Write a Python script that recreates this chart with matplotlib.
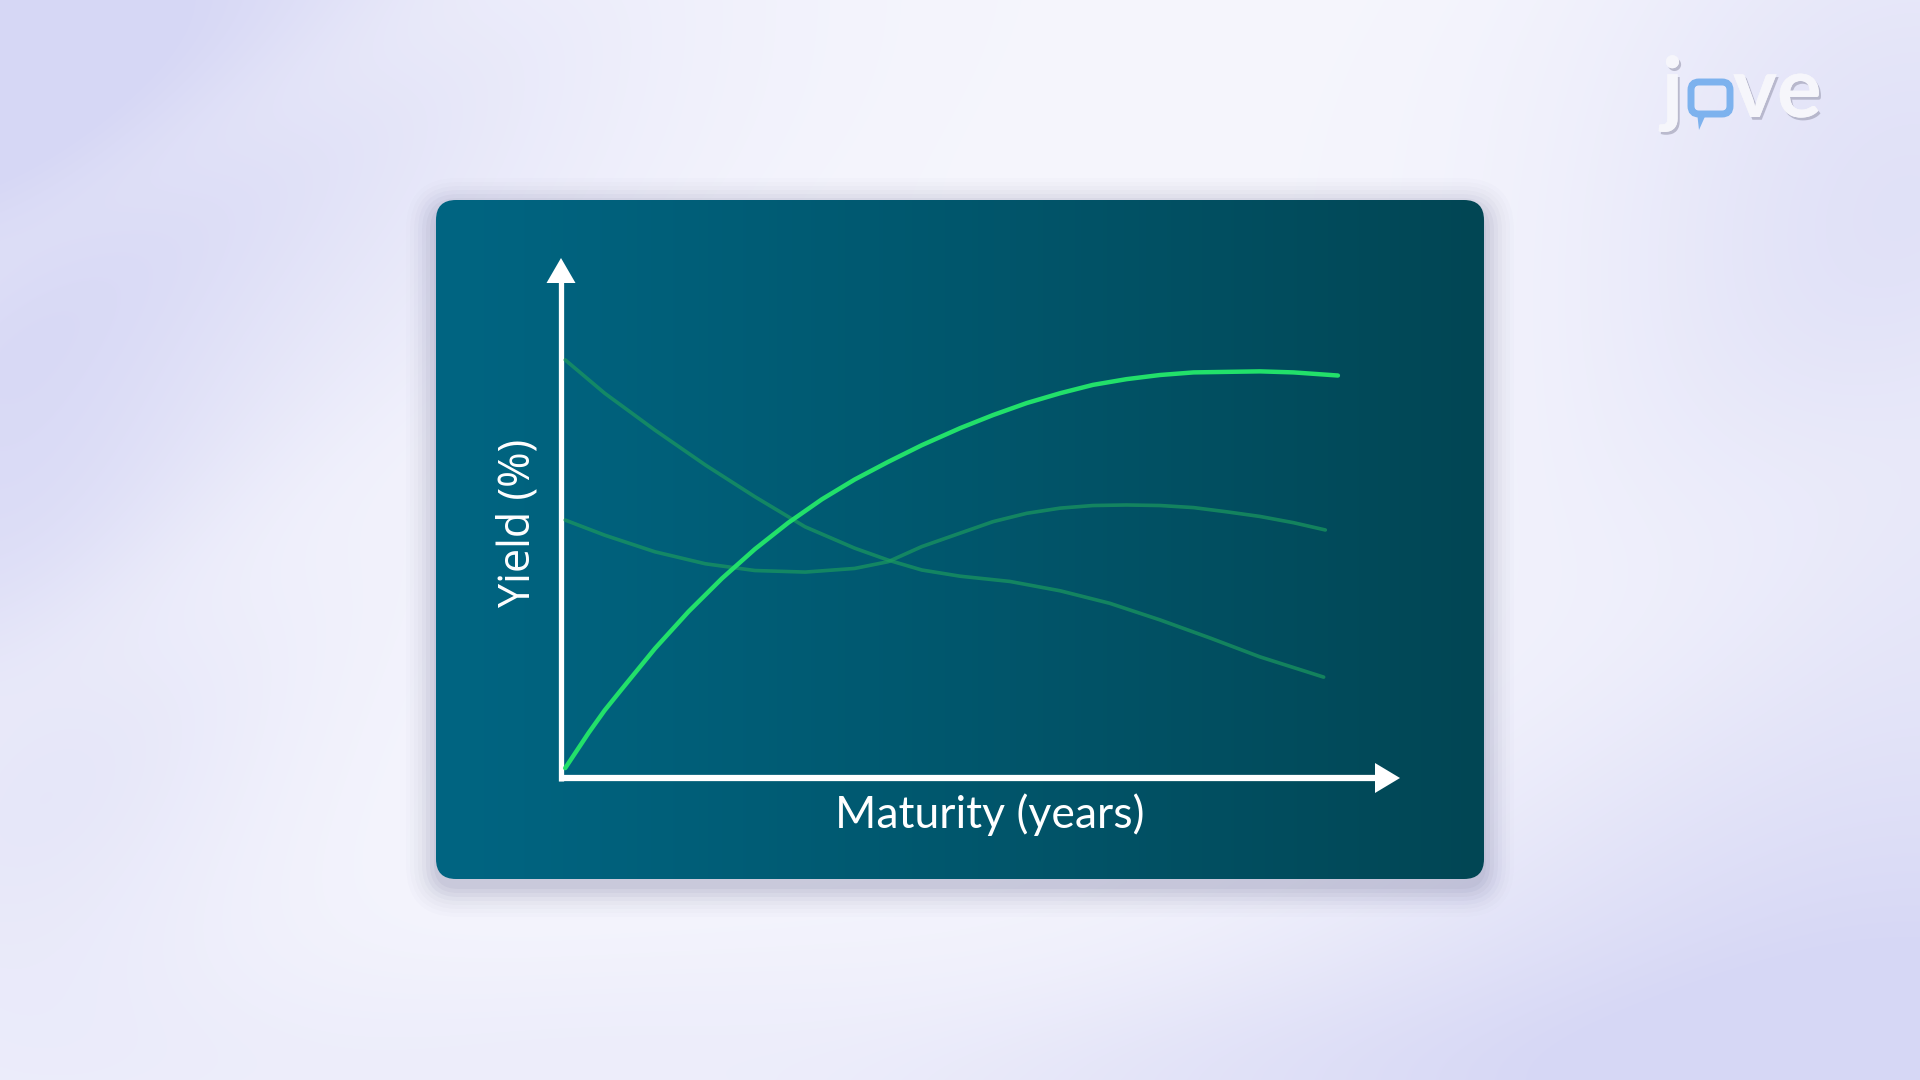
#!/usr/bin/env python3
"""Yield curve shapes on a teal card (normal, humped, inverted)."""

import numpy as np
import matplotlib
matplotlib.use("Agg")
import matplotlib.pyplot as plt
import matplotlib.patheffects as pe
from matplotlib.patches import FancyBboxPatch, Polygon

# Curve data (maturity on 0..100 scale, yield on 0..100 scale)
normal_x = [0.5, 3.3, 5.2, 7.2, 11.2, 15.2, 19.2, 23.1, 27.1, 31.1, 35.0, 39.0, 43.0,
            47.6, 51.5, 55.5, 59.5, 63.4, 67.4, 71.4, 75.4, 79.3, 83.3, 87.3, 92.6]
normal_y = [1.9, 8.7, 13.0, 17.0, 24.9, 32.0, 38.4, 44.0, 49.1, 53.6, 57.4, 60.8, 64.0,
            67.3, 69.8, 72.1, 74.0, 75.6, 76.7, 77.5, 78.0, 78.1, 78.2, 78.0, 77.4]

humped_x = [0.5, 5.2, 11.2, 17.2, 23.1, 29.1, 35.0, 39.0, 43.0, 47.6, 51.5, 55.5,
            59.5, 63.4, 67.4, 71.4, 75.4, 79.3, 83.3, 87.3, 91.1]
humped_y = [49.6, 46.7, 43.5, 41.2, 39.9, 39.6, 40.3, 41.6, 44.5, 47.1, 49.3, 50.9,
            51.9, 52.4, 52.5, 52.4, 52.0, 51.2, 50.3, 49.1, 47.7]

inverted_x = [0.5, 5.2, 11.2, 17.2, 23.1, 29.1, 35.0, 39.0, 43.0, 47.6, 53.5, 59.5,
              65.4, 71.4, 77.4, 83.3, 90.9]
inverted_y = [80.4, 74.0, 66.9, 60.2, 54.1, 48.3, 44.2, 41.9, 40.0, 38.8, 37.8, 36.0,
              33.6, 30.4, 26.9, 23.3, 19.4]

X_LABEL = "Maturity (years)"
Y_LABEL = "Yield (%)"

W, H = 1920, 1080

# Layout in pixels (top-left origin)
CARD = (436, 200, 1484, 879)
ORIGIN = (561, 778)
X_END = 1400
Y_TOP = 258

fig = plt.figure(figsize=(W / 100, H / 100), dpi=100)

# background layer in pixel coordinates
bg = fig.add_axes([0, 0, 1, 1])
bg.set_xlim(0, W)
bg.set_ylim(H, 0)
bg.axis("off")

yy, xx = np.mgrid[0:H, 0:W].astype(float)


def blob(cx, cy, rx, ry):
    return np.exp(-(((xx - cx) / rx) ** 2 + ((yy - cy) / ry) ** 2))


# lavender tint in the corners and along the edges
tint = (0.95 * blob(0, 0, 520, 420) + 0.9 * blob(1920, 1080, 620, 380)
        + 0.55 * blob(0, 620, 260, 420) + 0.6 * blob(1920, 250, 330, 420)
        + 0.35 * blob(1000, 1080, 900, 120))
# white diagonal swooshes
t = yy + 0.55 * xx
sw = (0.6 * np.exp(-((t - 700) / 110) ** 2) + 0.5 * np.exp(-((t - 1500) / 160) ** 2)
      + 0.4 * np.exp(-((t - 250) / 80) ** 2))
tint = np.clip(tint * (1 - 0.6 * sw) + 0.12, 0, 1)
c_dark = np.array([214, 215, 245]) / 255
c_light = np.array([250, 250, 254]) / 255
img = c_light + (c_dark - c_light) * tint[..., None]
bg.imshow(img, extent=(0, W, H, 0), zorder=0, interpolation="bilinear")

x0, y0, x1, y1 = CARD
# shadow
for k, a in enumerate(np.linspace(0.05, 0.01, 8)):
    pad = 4 + k * 4
    bg.add_patch(FancyBboxPatch((x0 - pad + 2, y0 - pad + 10), (x1 - x0) + 2 * pad - 4,
                                (y1 - y0) + 2 * pad - 4,
                                boxstyle="round,pad=0,rounding_size=%d" % (20 + pad),
                                fc=(0.25, 0.25, 0.45), ec="none", alpha=a, zorder=1))

# card with horizontal teal gradient
card = FancyBboxPatch((x0, y0), x1 - x0, y1 - y0,
                      boxstyle="round,pad=0,rounding_size=20",
                      fc="none", ec="none", zorder=2)
bg.add_patch(card)
gx = np.linspace(0, 1, 256)
c_left = np.array([0, 101, 130]) / 255
c_right = np.array([2, 70, 84]) / 255
grad = c_left + (c_right - c_left) * (gx ** 1.1)[:, None]
grad = np.tile(grad[None, :, :], (64, 1, 1))
gim = bg.imshow(grad, extent=(x0, x1, y1, y0), zorder=2, interpolation="bilinear")
gim.set_clip_path(card)

# axis arrows
ox, oy = ORIGIN
bg.plot([ox, ox], [oy + 3, Y_TOP + 22], color="white", lw=3.8, solid_capstyle="butt", zorder=4)
bg.plot([ox - 2, X_END - 22], [oy, oy], color="white", lw=4.5, solid_capstyle="butt", zorder=4)
bg.add_patch(Polygon([[ox, Y_TOP], [ox - 14.5, Y_TOP + 25], [ox + 14.5, Y_TOP + 25]],
                     closed=True, fc="white", ec="none", zorder=4))
bg.add_patch(Polygon([[X_END, oy], [X_END - 25, oy - 15], [X_END - 25, oy + 15]],
                     closed=True, fc="white", ec="none", zorder=4))

# axis labels
bg.text(990, 815, X_LABEL, color="white", fontsize=32, family="Lato",
        ha="center", va="center", zorder=5)
bg.text(518, 523, Y_LABEL, color="white", fontsize=31, family="Open Sans",
        fontweight="medium", rotation=90, ha="center", va="center", zorder=5)

# logo
shadow = [pe.withSimplePatchShadow(offset=(1.5, -2), shadow_rgbFace="#9a9ab0", alpha=0.6),
          pe.Normal()]
bg.text(1683, 117, "j", color="#f6f6fb", fontsize=60, family="Lato", fontweight="bold",
        ha="right", va="baseline", zorder=5, path_effects=shadow)
bg.add_patch(FancyBboxPatch((1691, 82), 39, 32, boxstyle="round,pad=0,rounding_size=8",
                            fc="none", ec="#7db2ee", lw=5, zorder=5))
bg.add_patch(Polygon([[1697, 112], [1707, 112], [1699, 130]], closed=True,
                     fc="#7db2ee", ec="none", zorder=5))
bg.text(1733, 117, "ve", color="#f6f6fb", fontsize=60, family="Lato", fontweight="bold",
        ha="left", va="baseline", zorder=5, path_effects=shadow)

# data axes for the curves
ax = fig.add_axes([ox / W, 1 - oy / H, (X_END - ox) / W, (oy - Y_TOP) / H])
ax.set_xlim(0, 100)
ax.set_ylim(0, 100)
ax.axis("off")
ax.patch.set_alpha(0)

ax.plot(inverted_x, inverted_y, color="#1c9a5e", lw=2.6, alpha=0.7,
        solid_joinstyle="round", solid_capstyle="round")
ax.plot(humped_x, humped_y, color="#1c9a5e", lw=2.6, alpha=0.7,
        solid_joinstyle="round", solid_capstyle="round")
ax.plot(normal_x, normal_y, color="#22e06a", lw=3.2,
        solid_joinstyle="round", solid_capstyle="round")

fig.savefig("out.png", dpi=100)
